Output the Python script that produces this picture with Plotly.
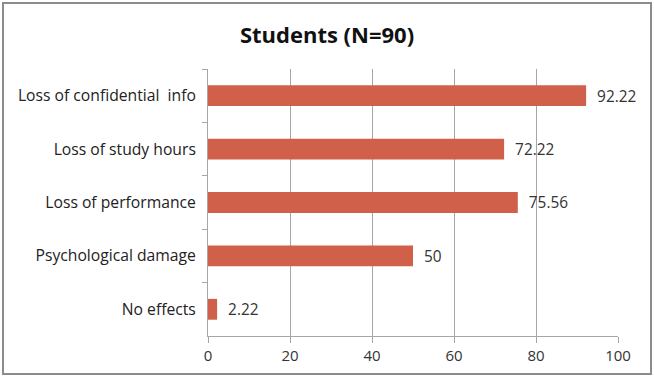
import plotly.graph_objects as go

categories = ["Loss of confidential  info", "Loss of study hours", "Loss of performance",
              "Psychological damage", "No effects"]
values = [92.22, 72.22, 75.56, 50, 2.22]
value_labels = ["92.22", "72.22", "75.56", "50", "2.22"]
x_ticks = [0, 20, 40, 60, 80, 100]

W, H = 654, 378
L, R, T, B = 208, 36, 69, 42
pw, ph = W - L - R, H - T - B

def px(x):
    return (x - L) / pw

def py(y):
    return (H - B - y) / ph

fig = go.Figure(go.Bar(
    x=values, y=categories, orientation="h",
    marker=dict(color="#D0604A", line=dict(width=0)),
    text=["\u00a0\u00a0" + t for t in value_labels], textposition="outside",
    textfont=dict(size=17, color="#333333", family="Open Sans"),
    cliponaxis=False, width=0.39,
))

fig.update_layout(
    width=W, height=H,
    margin=dict(l=L, r=R, t=T, b=B),
    paper_bgcolor="white", plot_bgcolor="white",
    showlegend=False,
    font=dict(family="Open Sans", size=15, color="#222222"),
    title=dict(text="<b>Students (N=90)</b>", x=0.5, xanchor="center",
               y=1 - 35 / H, yanchor="middle",
               font=dict(size=22, color="#111111", family="Open Sans")),
    xaxis=dict(range=[0, 100], tickvals=x_ticks, showgrid=True,
               gridcolor="#A6A6A6", gridwidth=1, zeroline=False,
               showline=True, linecolor="#A6A6A6", linewidth=1,
               ticks="outside", ticklen=6, tickcolor="#A6A6A6",
               tickfont=dict(size=15, color="#333333")),
    yaxis=dict(autorange="reversed", showgrid=False, showline=True,
               linecolor="#A6A6A6", linewidth=1, ticks="outside",
               tickson="boundaries", ticklen=5, tickcolor="#A6A6A6",
               ticklabelstandoff=8,
               tickfont=dict(size=15.7, color="#222222")),
    shapes=[
        dict(type="rect", xref="paper", yref="paper",
             x0=px(3), x1=px(651), y0=py(374), y1=py(3),
             line=dict(color="#8C8C8C", width=2), layer="below"),
    ],
)

fig.write_html("out.html", config={"displayModeBar": False},
               post_script="document.body.style.margin='0';document.body.style.overflow='hidden';")
